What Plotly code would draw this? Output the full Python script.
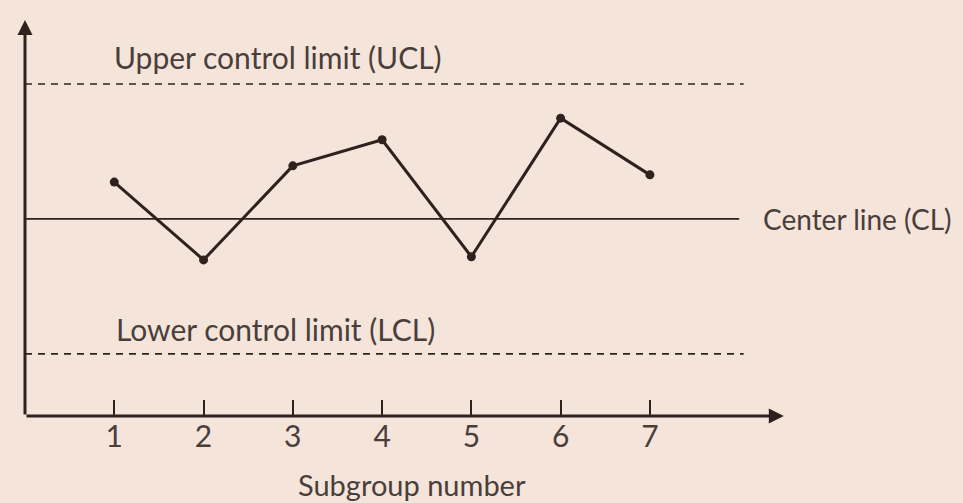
import plotly.graph_objects as go

subgroups = [1, 2, 3, 4, 5, 6, 7]
values = [0.82, -0.91, 1.18, 1.76, -0.84, 2.24, 0.98]
tick_labels = ["1", "2", "3", "4", "5", "6", "7"]
center_line = 0.0
ucl = 3.0
lcl = -3.0
axis_y = -4.38
x_end = 8.5
y_top = 4.42
line_end = 8.05

ink = "#2f221e"
text_col = "#4a3e3a"
bg = "#f4e4da"
font_family = "Lato, Open Sans, sans-serif"

fig = go.Figure()

# control limits
fig.add_trace(go.Scatter(x=[0, line_end], y=[ucl, ucl], mode="lines",
                         line=dict(color=ink, width=1.6, dash="7px,6px"), hoverinfo="skip"))
fig.add_trace(go.Scatter(x=[0, line_end], y=[lcl, lcl], mode="lines",
                         line=dict(color=ink, width=1.6, dash="7px,6px"), hoverinfo="skip"))
fig.add_trace(go.Scatter(x=[0, 8.0], y=[center_line, center_line], mode="lines",
                         line=dict(color=ink, width=1.8), hoverinfo="skip"))

# data
fig.add_trace(go.Scatter(x=subgroups, y=values, mode="lines+markers",
                         line=dict(color=ink, width=3),
                         marker=dict(color=ink, size=9)))

annotations = [
    # x axis arrow
    dict(x=x_end, y=axis_y, ax=0, ay=axis_y, xref="x", yref="y", axref="x", ayref="y",
         showarrow=True, arrowhead=2, arrowsize=1, arrowwidth=3, arrowcolor=ink, text=""),
    # y axis arrow
    dict(x=0, y=y_top, ax=0, ay=axis_y, xref="x", yref="y", axref="x", ayref="y",
         showarrow=True, arrowhead=2, arrowsize=1, arrowwidth=3, arrowcolor=ink, text=""),
    dict(x=0.98, y=3.6, xref="x", yref="y", text="Upper control limit (UCL)", showarrow=False,
         xanchor="left", yanchor="middle", font=dict(size=30, color=text_col, family=font_family)),
    dict(x=1.0, y=-2.45, xref="x", yref="y", text="Lower control limit (LCL)", showarrow=False,
         xanchor="left", yanchor="middle", font=dict(size=30, color=text_col, family=font_family)),
    dict(x=8.24, y=0, xref="x", yref="y", text="Center line (CL)", showarrow=False,
         xanchor="left", yanchor="middle", font=dict(size=28, color=text_col, family=font_family)),
    dict(x=4.33, y=-0.165, xref="x", yref="paper", text="Subgroup number", showarrow=False,
         xanchor="center", yanchor="middle", font=dict(size=29, color=text_col, family=font_family)),
]

fig.update_layout(
    width=963, height=503,
    margin=dict(l=25, r=0, t=0, b=87),
    paper_bgcolor=bg, plot_bgcolor=bg,
    showlegend=False,
    annotations=annotations,
    xaxis=dict(range=[0, 10.507], showgrid=False, zeroline=False, showline=False,
               tickvals=subgroups, ticktext=tick_labels, ticks="inside", ticklen=16,
               tickwidth=2, tickcolor=ink,
               tickfont=dict(size=30, color=text_col, family=font_family)),
    yaxis=dict(range=[axis_y, 4.867], showgrid=False, zeroline=False, showline=False,
               showticklabels=False, ticks=""),
)

fig.write_html("out.html", config={"displayModeBar": False},
               post_script="document.body.style.margin='0';")
